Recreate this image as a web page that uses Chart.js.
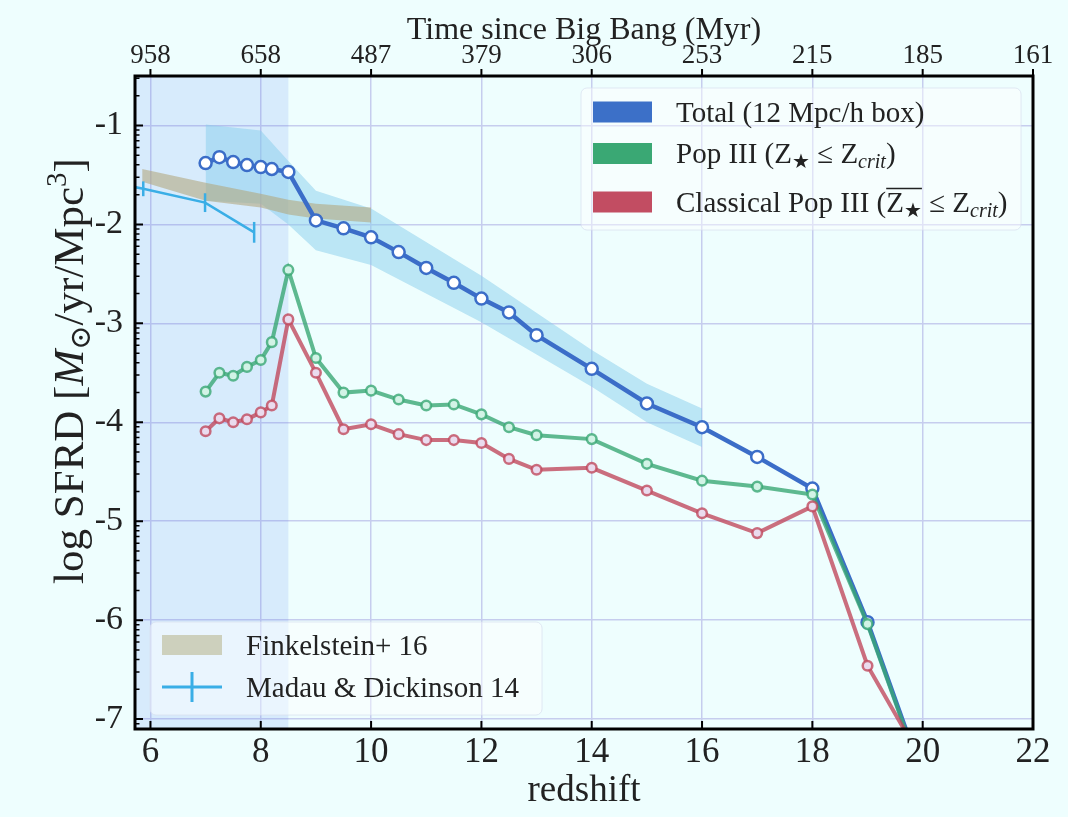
<!DOCTYPE html>
<html>
<head>
<meta charset="utf-8">
<script src="https://cdn.jsdelivr.net/npm/chart.js@4.4.1/dist/chart.umd.min.js"></script>
<style>
  html, body { margin: 0; padding: 0; background: #eefefe; }
  canvas { display: block; }
</style>
</head>
<body>
<canvas id="sfrd" width="1068" height="817"></canvas>
<script>
// redshift sampling of the simulation outputs
const REDSHIFT = [7, 7.25, 7.5, 7.75, 8, 8.2, 8.5, 9, 9.5, 10, 10.5, 11, 11.5, 12, 12.5, 13, 14, 15, 16, 17, 18, 19, 20];
const TOTAL = [-1.38, -1.32, -1.37, -1.40, -1.42, -1.44, -1.47, -1.96, -2.04, -2.13, -2.28, -2.44, -2.59, -2.75, -2.89, -3.12, -3.46, -3.81, -4.05, -4.35, -4.67, -6.02, -7.58];
const POP3 = [-3.69, -3.50, -3.53, -3.44, -3.37, -3.19, -2.46, -3.35, -3.70, -3.68, -3.77, -3.83, -3.82, -3.92, -4.05, -4.13, -4.17, -4.42, -4.59, -4.65, -4.73, -6.04, -7.60];
const CLASSICAL = [-4.09, -3.96, -4.00, -3.97, -3.90, -3.83, -2.96, -3.50, -4.07, -4.02, -4.12, -4.18, -4.18, -4.21, -4.37, -4.48, -4.46, -4.69, -4.92, -5.12, -4.85, -6.46, -7.43];

// spread of the total SFRD
const BAND_Z = [7, 8, 8.5, 9, 10, 12, 14, 15, 16];
const BAND_HI = [-0.99, -1.05, -1.36, -1.66, -1.84, -2.52, -3.27, -3.61, -3.86];
const BAND_LO = [-1.76, -1.79, -2.00, -2.26, -2.41, -2.99, -3.64, -4.00, -4.25];

// Finkelstein+ 16
const FINK_Z = [5.85, 7, 8, 8.5, 9, 10];
const FINK_HI = [-1.44, -1.58, -1.69, -1.75, -1.79, -1.83];
const FINK_LO = [-1.57, -1.76, -1.83, -1.90, -1.94, -1.98];

// Madau & Dickinson 14
const MD_Z = [4.9, 5.87, 6.99, 7.88];
const MD_SFRD = [-1.53, -1.64, -1.78, -2.08];
const MD_ERR = [0.08, 0.075, 0.095, 0.105];

const X_TICKS = [6, 8, 10, 12, 14, 16, 18, 20, 22];
const TIME_LABELS = ['958', '658', '487', '379', '306', '253', '215', '185', '161'];
const Y_TICKS = [-7, -6, -5, -4, -3, -2, -1];
const MINOR_K = [2, 3, 4, 5, 6, 7, 8, 9];
const SHADE_TO_Z = 8.5;

const SERIF = "'Liberation Serif', 'DejaVu Serif', serif";
const TEXT = '#222222';
const GRID = '#c6cdee';
const BLUE = '#3b6dc8';
const GREEN = 'rgba(58,168,116,0.8)';
const RED = 'rgba(192,74,94,0.8)';
const MADAU = '#3aaee6';

function pts(xs, ys) { return xs.map((x, i) => ({ x: x, y: ys[i] })); }

function rich(ctx, parts, x, y) {
  let cx = x, ox = null;
  parts.forEach(p => {
    ctx.font = p.font;
    const w = ctx.measureText(p.t).width;
    ctx.fillText(p.t, cx, y + (p.dy || 0));
    if (p.over === 'start') ox = cx;
    if (p.over === 'end' && ox !== null) {
      ctx.save();
      ctx.strokeStyle = ctx.fillStyle;
      ctx.lineWidth = 1.5;
      ctx.beginPath();
      ctx.moveTo(ox, y - 23);
      ctx.lineTo(cx + w, y - 23);
      ctx.stroke();
      ctx.restore();
    }
    cx += w;
  });
  return cx - x;
}

const LF = '29px ' + SERIF;
const LS = '20px ' + SERIF;
const LSI = 'italic 20px ' + SERIF;

function legendBox(ctx, x, y, w, h) {
  ctx.save();
  ctx.fillStyle = 'rgba(255,255,255,0.45)';
  ctx.strokeStyle = 'rgba(215,222,238,0.7)';
  ctx.lineWidth = 1;
  ctx.beginPath();
  ctx.roundRect(x, y, w, h, 6);
  ctx.fill();
  ctx.stroke();
  ctx.restore();
}

function drawLegends(chart) {
  const ctx = chart.ctx;
  ctx.save();
  legendBox(ctx, 581, 88, 440, 142);
  const rows = [
    { c: '#3c70c8', cy: 112, parts: [{ t: 'Total (12 Mpc/h box)', font: LF }] },
    { c: '#3aa874', cy: 153.5, parts: [
      { t: 'Pop III (Z', font: LF }, { t: '★', font: LS, dy: 5 }, { t: ' ≤ Z', font: LF },
      { t: 'crit', font: LSI, dy: 5 }, { t: ')', font: LF }] },
    { c: '#c24d62', cy: 202, parts: [
      { t: 'Classical Pop III (', font: LF }, { t: 'Z', font: LF, over: 'start' },
      { t: '★', font: LS, dy: 5, over: 'end' }, { t: ' ≤ Z', font: LF },
      { t: 'crit', font: LSI, dy: 5 }, { t: ')', font: LF }] }
  ];
  ctx.textBaseline = 'alphabetic';
  rows.forEach(r => {
    ctx.fillStyle = r.c;
    ctx.fillRect(593, r.cy - 10.5, 59, 21);
    ctx.fillStyle = TEXT;
    rich(ctx, r.parts, 676, r.cy + 9.5);
  });

  legendBox(ctx, 150, 622, 392, 93);
  ctx.fillStyle = '#cdd0bd';
  ctx.fillRect(162, 635, 60, 20);
  ctx.strokeStyle = MADAU;
  ctx.lineWidth = 3;
  ctx.beginPath();
  ctx.moveTo(162, 687); ctx.lineTo(222, 687);
  ctx.moveTo(192, 672); ctx.lineTo(192, 702);
  ctx.stroke();
  ctx.fillStyle = TEXT;
  ctx.font = LF;
  ctx.fillText('Finkelstein+ 16', 246, 655);
  ctx.fillText('Madau & Dickinson 14', 246, 697);
  ctx.restore();
}

function drawErrorBars(chart) {
  const { ctx, chartArea: a, scales: { x, y } } = chart;
  ctx.save();
  ctx.beginPath();
  ctx.rect(a.left, a.top, a.right - a.left, a.bottom - a.top);
  ctx.clip();
  ctx.strokeStyle = MADAU;
  ctx.lineWidth = 2.5;
  MD_Z.forEach((z, i) => {
    const px = x.getPixelForValue(z);
    ctx.beginPath();
    ctx.moveTo(px, y.getPixelForValue(MD_SFRD[i] + MD_ERR[i]));
    ctx.lineTo(px, y.getPixelForValue(MD_SFRD[i] - MD_ERR[i]));
    ctx.stroke();
  });
  ctx.restore();
}

function drawFrame(chart) {
  const { ctx, chartArea: a, scales: { x, y } } = chart;
  ctx.save();
  ctx.strokeStyle = '#000';
  ctx.lineWidth = 2;
  ctx.beginPath();
  X_TICKS.forEach(v => {
    const px = x.getPixelForValue(v);
    ctx.moveTo(px, a.bottom); ctx.lineTo(px, a.bottom - 8);
    ctx.moveTo(px, a.top); ctx.lineTo(px, a.top - 7);
  });
  Y_TICKS.forEach(v => {
    const py = y.getPixelForValue(v);
    ctx.moveTo(a.left, py); ctx.lineTo(a.left + 8, py);
  });
  ctx.stroke();
  ctx.lineWidth = 1.5;
  ctx.beginPath();
  for (let n = -8; n <= -1; n++) {
    MINOR_K.forEach(k => {
      const v = n + Math.log10(k);
      if (v < y.min || v > y.max) return;
      const py = y.getPixelForValue(v);
      ctx.moveTo(a.left, py); ctx.lineTo(a.left + 4.5, py);
    });
  }
  ctx.stroke();
  ctx.lineWidth = 3;
  ctx.strokeRect(a.left, a.top, a.right - a.left, a.bottom - a.top);
  ctx.restore();
}

function drawYTitle(chart) {
  const ctx = chart.ctx;
  const F = '43px ' + SERIF, FI = 'italic 43px ' + SERIF, S = '29px ' + SERIF;
  const parts = [
    { t: 'log SFRD [', font: F }, { t: 'M', font: FI }, { t: '⊙', font: S, dy: 7 },
    { t: '/yr/Mpc', font: F }, { t: '3', font: S, dy: -17 }, { t: ']', font: F }
  ];
  ctx.save();
  let w = 0;
  parts.forEach(p => { ctx.font = p.font; w += ctx.measureText(p.t).width; });
  ctx.translate(83, 371);
  ctx.rotate(-Math.PI / 2);
  ctx.fillStyle = TEXT;
  ctx.textBaseline = 'alphabetic';
  rich(ctx, parts, -w / 2, 0);
  ctx.restore();
}

const decor = {
  id: 'decor',
  beforeDatasetsDraw(chart) {
    const { ctx, chartArea: a, scales: { x } } = chart;
    ctx.save();
    ctx.fillStyle = 'rgba(90,130,240,0.15)';
    ctx.fillRect(a.left, a.top, x.getPixelForValue(SHADE_TO_Z) - a.left, a.bottom - a.top);
    ctx.restore();
  },
  afterDatasetsDraw(chart) {
    drawErrorBars(chart);
    drawLegends(chart);
  },
  afterDraw(chart) {
    drawFrame(chart);
    drawYTitle(chart);
  }
};

const lineStyle = (color, fill, r, w) => ({
  borderColor: color, borderWidth: w, pointRadius: r, pointBorderWidth: 2.5,
  pointBackgroundColor: fill, pointBorderColor: color, fill: false, tension: 0, clip: 0
});

new Chart(document.getElementById('sfrd'), {
  type: 'line',
  data: {
    datasets: [
      { data: pts(BAND_Z, BAND_HI), borderWidth: 0, pointRadius: 0, fill: false, order: 10, clip: 0 },
      { data: pts(BAND_Z, BAND_LO), borderWidth: 0, pointRadius: 0, fill: 0,
        backgroundColor: 'rgba(135,206,235,0.5)', order: 10, clip: 0 },
      { data: pts(FINK_Z, FINK_HI), borderWidth: 0, pointRadius: 0, fill: false, order: 9, clip: 0 },
      { data: pts(FINK_Z, FINK_LO), borderWidth: 0, pointRadius: 0, fill: 2,
        backgroundColor: 'rgba(178,168,128,0.6)', order: 9, clip: 0 },
      { data: pts(MD_Z, MD_SFRD), borderColor: MADAU, borderWidth: 2.5, pointRadius: 0,
        fill: false, order: 8, clip: 0 },
      Object.assign({ data: pts(REDSHIFT, TOTAL), order: 3 }, lineStyle(BLUE, '#ffffff', 6, 4.5)),
      Object.assign({ data: pts(REDSHIFT, POP3), order: 2 }, lineStyle(GREEN, '#d2f3e6', 4.8, 4)),
      Object.assign({ data: pts(REDSHIFT, CLASSICAL), order: 1 }, lineStyle(RED, '#eadbee', 4.8, 4))
    ]
  },
  options: {
    responsive: false,
    animation: false,
    devicePixelRatio: 1,
    layout: { padding: { left: 0, right: 35, top: 0, bottom: 0 } },
    plugins: { legend: { display: false }, tooltip: { enabled: false } },
    scales: {
      x: {
        type: 'linear', position: 'bottom', min: 5.72, max: 22,
        afterBuildTicks: s => { s.ticks = X_TICKS.map(v => ({ value: v })); },
        afterFit: s => { s.height = 88; },
        grid: { color: GRID, lineWidth: 1.5, drawTicks: false },
        border: { display: false },
        ticks: { font: { family: SERIF, size: 35, lineHeight: 1 }, color: TEXT, padding: 6,
          maxRotation: 0, autoSkip: false, callback: v => String(v) },
        title: { display: true, text: 'redshift', color: TEXT,
          font: { family: SERIF, size: 37, lineHeight: 1 }, padding: { top: 0, bottom: 7 } }
      },
      x2: {
        type: 'linear', position: 'top', min: 5.72, max: 22,
        afterBuildTicks: s => { s.ticks = X_TICKS.map(v => ({ value: v })); },
        afterFit: s => { s.height = 76; },
        grid: { display: false },
        border: { display: false },
        ticks: { font: { family: SERIF, size: 27, lineHeight: 1 }, color: TEXT, padding: -1,
          maxRotation: 0, autoSkip: false, callback: v => TIME_LABELS[X_TICKS.indexOf(v)] },
        title: { display: true, text: 'Time since Big Bang (Myr)', color: TEXT,
          font: { family: SERIF, size: 32, lineHeight: 1 }, padding: { top: 15, bottom: 0 } }
      },
      y: {
        type: 'linear', min: -7.1, max: -0.5,
        afterBuildTicks: s => { s.ticks = Y_TICKS.map(v => ({ value: v })); },
        afterFit: s => { s.width = 135; },
        grid: { color: GRID, lineWidth: 1.5, drawTicks: false },
        border: { display: false },
        ticks: { font: { family: SERIF, size: 34, lineHeight: 1 }, color: TEXT, padding: 12,
          callback: v => String(v) }
      }
    }
  },
  plugins: [decor]
});
</script>
</body>
</html>
